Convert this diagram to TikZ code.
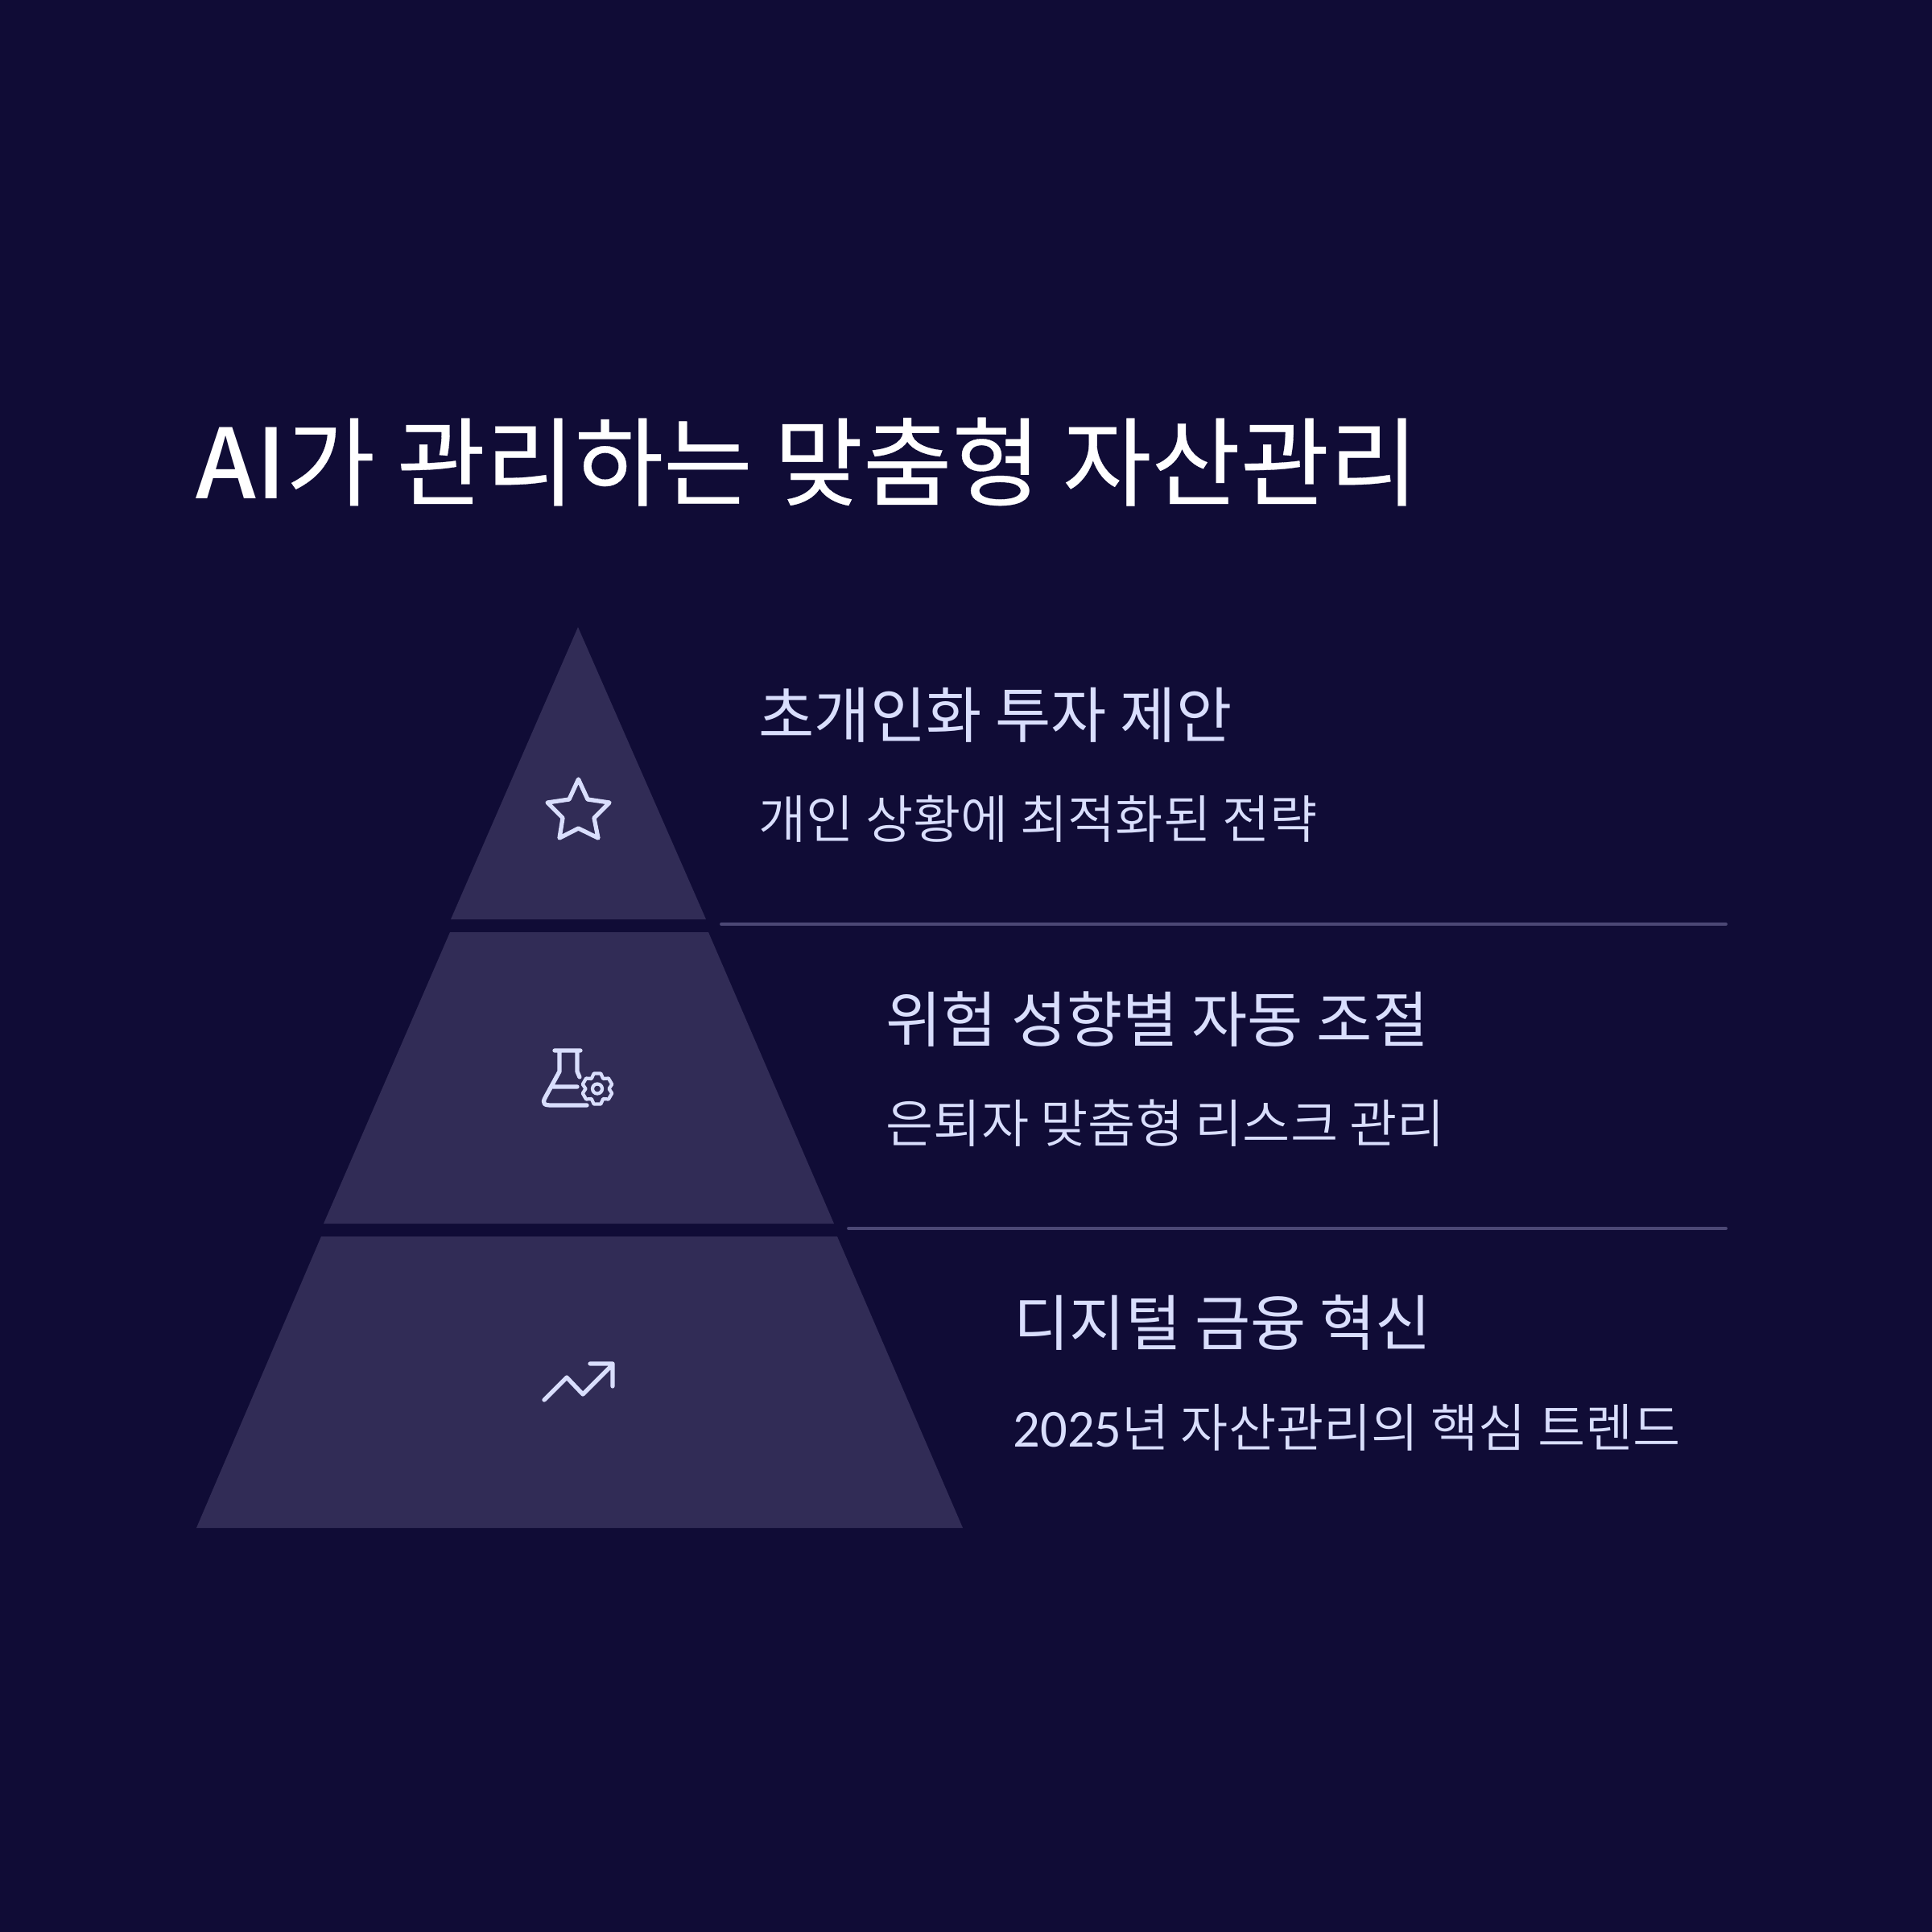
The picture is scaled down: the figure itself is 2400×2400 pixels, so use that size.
\documentclass[tikz,border=0pt]{standalone}
\usepackage{fontspec}
\setmainfont{Noto Sans CJK KR}
\newfontfamily\ttlfont{Noto Sans CJK KR}[FakeBold=0.25]
\newfontfamily\ttllat{Noto Sans CJK KR Medium}
\newfontfamily\subfont{Noto Sans CJK KR DemiLight}
\newfontfamily\digfont{Carlito}
\definecolor{bgc}{HTML}{100C36}
\definecolor{tierc}{HTML}{312C56}
\definecolor{rulec}{HTML}{4C4875}
\definecolor{txtc}{HTML}{D9DEFD}
\tikzset{
 x=0.01cm,y=-0.01cm,
 tier/.style={fill=tierc,draw=none},
 rulel/.style={draw=rulec,line width=1.1pt,line cap=round},
 ico/.style={draw=txtc,line width=1.5pt,line cap=round,line join=round},
 icothin/.style={draw=txtc,line width=1.2pt,line cap=round,line join=round},
 head/.style={anchor=base west,inner sep=0,text=txtc,font=\fontsize{21.4}{26}\selectfont},
 sub/.style={anchor=base west,inner sep=0,text=txtc,font=\subfont\fontsize{18.3}{22}\selectfont},
 titl/.style={anchor=base west,inner sep=0,text=white,font=\ttlfont\fontsize{34.15}{40}\selectfont},
}
\begin{document}
\begin{tikzpicture}
\useasboundingbox (0,0) rectangle (2400,2400);
\fill[bgc] (0,0) rectangle (2400,2400);
\node[titl] (title) at (243,619) {{\ttllat AI}가 관리하는 맞춤형 자산관리};
\fill[tier] (718,779) -- (877,1142) -- (560,1142) -- cycle;
\fill[tier] (559,1158) -- (880,1158) -- (1036,1520) -- (402,1520) -- cycle;
\fill[tier] (399,1536) -- (1040,1536) -- (1196,1898) -- (244,1898) -- cycle;
\coordinate (r1a) at (896,1148); \coordinate (r1b) at (2144,1148);
\coordinate (r2a) at (1054,1526); \coordinate (r2b) at (2144,1526);
\draw[rulel] (r1a) -- (r1b);
\draw[rulel] (r2a) -- (r2b);
\node[head] (h1) at (942,916) {초개인화 투자 제안};
\node[sub] (s1) at (942,1041) {개인 상황에 최적화된 전략};
\node[head] (h2) at (1100,1294) {위험 성향별 자동 조절};
\node[sub] (s2) at (1100,1419) {은퇴자 맞춤형 리스크 관리};
\node[head] (h3) at (1259,1671) {디지털 금융 혁신};
\node[sub] (s3) at (1258,1797) {{\digfont\fontsize{18.9}{22}\selectfont 2025}년 자산관리의 핵심 트렌드};
% star
\draw[ico] (718.5,968) -- (730,993) -- (757,997) -- (738,1016) -- (743,1041) -- (718.5,1029) -- (695,1041) -- (699,1016) -- (680,997) -- (707,993) -- cycle;
% flask
\draw[ico] (689,1305) -- (721,1305) (695,1305) -- (695,1331) -- (678,1362) .. controls (672,1372) and (677,1373) .. (686,1373) -- (729,1373)
 (717,1305) -- (717,1331) -- (720,1338) (687,1350) -- (717,1350);
\draw[icothin] (742,1352.5) circle (6);
\draw[icothin] (737.7,1333.5) -- (746.3,1333.5) -- (749.25,1340) -- (755.9,1339.5) -- (760.2,1346.9) -- (756.5,1352.5) -- (760.2,1358.1) -- (755.9,1365.5) -- (749.25,1365) -- (746.3,1371.5) -- (737.7,1371.5) -- (734.75,1365) -- (728.1,1365.5) -- (723.8,1358.1) -- (727.5,1352.5) -- (723.8,1346.9) -- (728.1,1339.5) -- (734.75,1340) -- cycle;
% trend
\draw[ico] (676,1739) -- (704,1711) -- (724,1732) -- (761,1695) (733,1694) -- (761,1694) -- (761,1722);
\end{tikzpicture}
\end{document}
